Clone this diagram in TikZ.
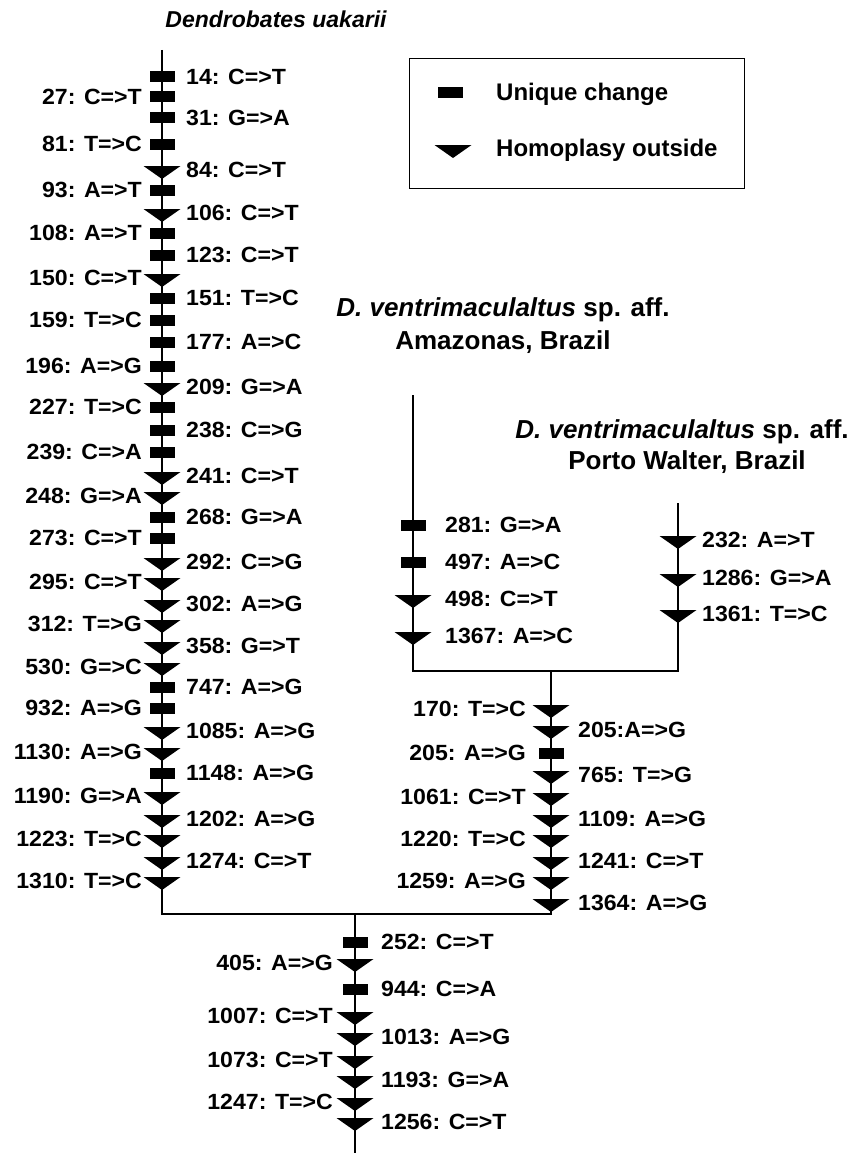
\documentclass[tikz,border=0pt]{standalone}
\usepackage{fontspec}
\setmainfont{Liberation Sans}
\newfontfamily\labfont[FakeStretch=1.05]{Liberation Sans}
\usepackage{tikz}

\begin{document}
\begin{tikzpicture}[x=1pt, y=-1pt,
  branch/.style={line width=1.6pt},
  lab/.style={font=\labfont\fontsize{22}{24}\selectfont\bfseries, inner sep=0pt},
  labR/.style={lab, anchor=west, xshift=\gapR pt},
  labL/.style={lab, anchor=east, xshift=-\gapL pt},
  taxon/.style={font=\fontsize{26}{30}\selectfont\bfseries, anchor=base, inner sep=0pt},
  legtext/.style={font=\fontsize{24}{28}\selectfont\bfseries, anchor=base west, inner sep=0pt},
  uniq/.pic={\fill (-12.5,-5.5) rectangle (12.5,5.5);},
  homo/.pic={\fill (-18.5,-4) -- (18.5,-4) -- (0,9) -- cycle;},
]
\useasboundingbox (0,0) rectangle (862,1153);

% taxon names
\node[taxon, font=\fontsize{23}{28}\selectfont\bfseries\itshape] (uaName) at (276,28) {Dendrobates uakarii};
\node[taxon] (amName1) at (503,316) {\textit{D. ventrimaculaltus} sp. aff.};
\node[taxon] (amName2) at (503,349) {Amazonas, Brazil};
\node[taxon] (pwName1) at (682,438) {\textit{D. ventrimaculaltus} sp. aff.};
\node[taxon] (pwName2) at (687,469) {Porto Walter, Brazil};

% legend
\node[draw, line width=1.4pt, minimum width=335pt, minimum height=130pt,
      anchor=north west, inner sep=0pt] (legend) at (409,58) {};
\pic at (450,93) {uniq};
\pic at (453,149) {homo};
\node[legtext] (legU) at (496,101) {Unique change};
\node[legtext] (legH) at (496,157) {Homoplasy outside};

% branches
\coordinate (uaTop) at (162,50);
\coordinate (uaBase) at (162,914);
\coordinate (root) at (355,914);
\coordinate (rootEnd) at (355,1153);
\coordinate (rtBase) at (551,914);
\coordinate (rtTop) at (551,671);
\coordinate (amTop) at (413,395);
\coordinate (amBase) at (413,671);
\coordinate (pwTop) at (678,503);
\coordinate (pwBase) at (678,671);
\draw[branch] (uaTop) -- (uaBase) -- (rtBase) -- (rtTop);
\draw[branch] (amTop) -- (amBase) -- (pwBase) -- (pwTop);
\draw[branch] (root) -- (rootEnd);

% Dendrobates uakarii
\def\gapR{24}\def\gapL{20}
\foreach \y/\s/\k/\t [count=\i] in {
  77/R/uniq/14: C=>T, 97/L/uniq/27: C=>T, 118/R/uniq/31: G=>A,
  144/L/uniq/81: T=>C, 170/R/homo/84: C=>T, 190/L/uniq/93: A=>T,
  213/R/homo/106: C=>T, 233/L/uniq/108: A=>T, 255/R/uniq/123: C=>T,
  278/L/homo/150: C=>T, 298/R/uniq/151: T=>C, 320/L/uniq/159: T=>C,
  342/R/uniq/177: A=>C, 366/L/uniq/196: A=>G, 387/R/homo/209: G=>A,
  407/L/uniq/227: T=>C, 430/R/uniq/238: C=>G, 452/L/uniq/239: C=>A,
  476/R/homo/241: C=>T, 496/L/homo/248: G=>A, 517/R/uniq/268: G=>A,
  538/L/uniq/273: C=>T, 562/R/homo/292: C=>G, 582/L/homo/295: C=>T,
  604/R/homo/302: A=>G, 624/L/homo/312: T=>G, 646/R/homo/358: G=>T,
  667/L/homo/530: G=>C, 687/R/uniq/747: A=>G, 708/L/uniq/932: A=>G,
  731/R/homo/1085: A=>G, 752/L/homo/1130: A=>G, 773/R/uniq/1148: A=>G,
  796/L/homo/1190: G=>A, 819/R/homo/1202: A=>G, 839/L/homo/1223: T=>C,
  861/R/homo/1274: C=>T, 881/L/homo/1310: T=>C}{
  \pic at (162,\y) {\k};
  \node[lab\s] (ua\i) at (162,\y) {\t};
}

% Amazonas
\def\gapR{32}
\foreach \y/\k/\t [count=\i] in {
  525/uniq/281: G=>A, 562/uniq/497: A=>C, 599/homo/498: C=>T, 636/homo/1367: A=>C}{
  \pic at (413,\y) {\k};
  \node[labR] (am\i) at (413,\y) {\t};
}

% Porto Walter
\def\gapR{24}
\foreach \y/\t [count=\i] in {540/232: A=>T, 578/1286: G=>A, 614/1361: T=>C}{
  \pic at (678,\y) {homo};
  \node[labR] (pw\i) at (678,\y) {\t};
}

% ventrimaculatus clade
\def\gapR{27}\def\gapL{25}
\foreach \y/\s/\k/\t [count=\i] in {
  709/L/homo/170: T=>C, 730/R/homo/205:A=>G, 753/L/uniq/205: A=>G,
  775/R/homo/765: T=>G, 797/L/homo/1061: C=>T, 819/R/homo/1109: A=>G,
  839/L/homo/1220: T=>C, 861/R/homo/1241: C=>T, 881/L/homo/1259: A=>G,
  903/R/homo/1364: A=>G}{
  \pic at (551,\y) {\k};
  \node[lab\s] (vm\i) at (551,\y) {\t};
}

% root
\def\gapR{26}\def\gapL{22}
\foreach \y/\s/\k/\t [count=\i] in {
  942/R/uniq/252: C=>T, 963/L/homo/405: A=>G, 989/R/uniq/944: C=>A,
  1016/L/homo/1007: C=>T, 1037/R/homo/1013: A=>G, 1060/L/homo/1073: C=>T,
  1080/R/homo/1193: G=>A, 1102/L/homo/1247: T=>C, 1122/R/homo/1256: C=>T}{
  \pic at (355,\y) {\k};
  \node[lab\s] (rt\i) at (355,\y) {\t};
}
\end{tikzpicture}
\end{document}
